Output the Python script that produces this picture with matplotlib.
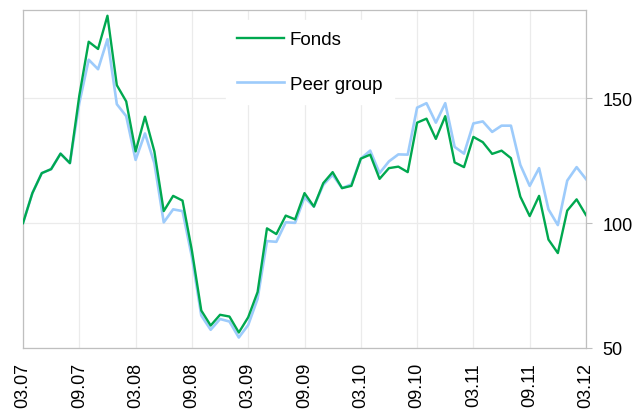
import numpy as np
import matplotlib
matplotlib.use("Agg")
import matplotlib.pyplot as plt

# Monthly values, 03.07 .. 03.12 (61 months)
fonds = [100, 112, 120, 121.6, 127.8, 124, 151, 172.6, 169.7, 183,
         155.2, 148.7, 128.7, 142.6, 128.7, 104.8, 110.9, 109, 89, 65,
         59, 63.3, 62.6, 56.2, 62.3, 72.4, 97.9, 95.6, 103, 101.5,
         112, 106.6, 116, 120.4, 114, 114.9, 125.8, 127.4, 117.7, 122,
         122.6, 120.4, 140.2, 141.8, 133.7, 142.8, 124.3, 122.4, 134.5, 132.4,
         127.7, 129, 126, 110.6, 102.8, 110.9, 93.4, 88, 105, 109.5,
         103.2]
peer = [100, 112, 120, 121.6, 127.8, 124, 148, 165.4, 161.6, 173.6,
        147.6, 142.8, 125.3, 135.9, 124, 100.3, 105.5, 104.8, 86.4, 63,
        57.3, 61.6, 60.6, 54.2, 59.2, 69.7, 92.8, 92.5, 100.3, 100.1,
        110.3, 106.6, 115.3, 119.3, 114, 115.5, 125.8, 129, 120, 124.7,
        127.5, 127.4, 146.2, 148, 140.2, 148, 130.5, 127.8, 139.9, 140.7,
        136.5, 139, 139, 123.3, 114.9, 122, 105.5, 99.2, 117, 122.4,
        117.6]
tick_labels = ["03.07", "09.07", "03.08", "09.08", "03.09", "09.09",
               "03.10", "09.10", "03.11", "09.11", "03.12"]
y_ticks = [50, 100, 150]

plt.rcParams["font.family"] = ["Liberation Sans", "DejaVu Sans"]

fig = plt.figure(figsize=(6.42, 4.10), dpi=100)
ax = fig.add_axes([23 / 642, 61 / 410, 563 / 642, 338 / 410])

x = np.arange(len(fonds))
ax.plot(x, fonds, color="#00A84F", lw=1.7, label="Fonds", zorder=3)
ax.plot(x, peer, color="#9DCBFB", lw=1.9, label="Peer group", zorder=2)

ax.set_xlim(0, len(fonds) - 1)
ax.set_ylim(50, 185.3)

xt = np.arange(0, len(fonds), 6)
ax.set_xticks(xt)
ax.set_xticklabels(tick_labels, rotation=90, fontsize=13)
ax.tick_params(axis="x", length=0, pad=10)

ax.yaxis.tick_right()
ax.set_yticks(y_ticks)
ax.set_yticklabels([str(v) for v in y_ticks], fontsize=13)
ax.tick_params(axis="y", length=4, width=0.8, color="#BFBFBF", pad=8)

ax.grid(True, color="#EBEBEB", lw=0.9, zorder=0)
ax.set_axisbelow(True)
for s in ax.spines.values():
    s.set_color("#BFBFBF")
    s.set_linewidth(0.9)

leg = ax.legend(loc="upper left", bbox_to_anchor=(226 / 642, 1 - 21 / 410),
                bbox_transform=fig.transFigure, fontsize=13.5, frameon=True,
                handlelength=2.5, handletextpad=0.3, labelspacing=1.45,
                borderpad=0.6, borderaxespad=0, fancybox=False)
leg.get_frame().set_facecolor("white")
leg.get_frame().set_edgecolor("white")
leg.get_frame().set_alpha(1)

plt.savefig("out.png", dpi=100)
